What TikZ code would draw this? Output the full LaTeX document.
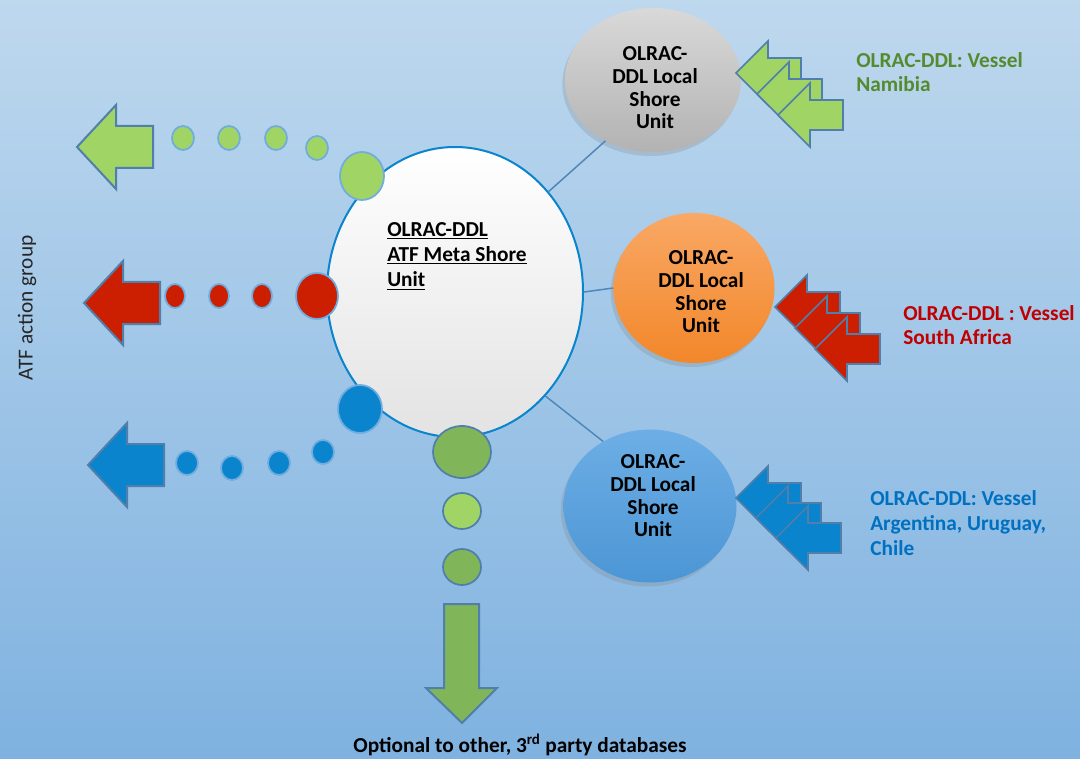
\documentclass[tikz,border=0pt]{standalone}
\usepackage{fontspec}
\setmainfont{Carlito}
\usetikzlibrary{shapes.geometric,shadows}

\definecolor{bgtop}{HTML}{BED8EE}
\definecolor{bgbot}{HTML}{7FB2E0}
\definecolor{lgreen}{HTML}{A0D465}
\definecolor{dgreen}{HTML}{80B55A}
\definecolor{ared}{HTML}{CC1E00}
\definecolor{ablue}{HTML}{0A84CC}
\definecolor{rim}{HTML}{4F7FAA}
\definecolor{dotrim}{HTML}{6FACDF}
\definecolor{lblgreen}{HTML}{558B2F}
\definecolor{lblred}{HTML}{C00000}
\definecolor{lblblue}{HTML}{0070C0}
\definecolor{linkcol}{HTML}{4F86B8}
\definecolor{orgtop}{HTML}{F9A865}
\definecolor{orgbot}{HTML}{F2872A}
\definecolor{blutop}{HTML}{6DAEE5}
\definecolor{blubot}{HTML}{4C96D5}

\tikzset{
  bubble/.style={ellipse, draw=dotrim, line width=1.3pt, inner sep=0pt},
  shoreunit/.style={ellipse, inner sep=0pt,
    drop shadow={opacity=0.25, shadow xshift=-2pt, shadow yshift=-3pt}},
  unittext/.style={align=center, inner sep=0pt,
    font=\fontsize{16}{17}\selectfont\bfseries},
  vessel/.style={align=left, anchor=north west, inner sep=0pt,
    font=\fontsize{16}{18.5}\selectfont\bfseries},
  bigarrow/.pic={\draw[pic actions] (0,0) -- (39,-42) -- (39,-21) -- (76,-21) -- (76,21) -- (39,21) -- (39,42) -- cycle;},
  smallarrow/.pic={\draw[pic actions] (0,0) -- (32,-32) -- (32,-15) -- (65,-15) -- (65,15) -- (32,15) -- (32,32) -- cycle;}
}

\begin{document}
\begin{tikzpicture}[x=0.75pt,y=-0.75pt]

% background
\fill [top color=bgtop, bottom color=bgbot] (0,0) rectangle (1080,758);

% local shore units
\node [shoreunit, minimum width=132pt, minimum height=108pt, top color=gray!30, bottom color=gray!60] (namibia) at (653,80) {};
\node [shoreunit, minimum width=120.75pt, minimum height=112.5pt, top color=orgtop, bottom color=orgbot] (southafrica) at (694,288) {};
\node [shoreunit, minimum width=129.75pt, minimum height=114.75pt, top color=blutop, bottom color=blubot] (southamerica) at (650,506) {};
\node [unittext] (namibiatext) at (655,88) {OLRAC-\\DDL Local\\Shore\\Unit};
\node [unittext] (southafricatext) at (701,292) {OLRAC-\\DDL Local\\Shore\\Unit};
\node [unittext] (southamericatext) at (653,496) {OLRAC-\\DDL Local\\Shore\\Unit};

% meta unit
\node [ellipse, draw=ablue, line width=1.5pt, top color=white, bottom color=gray!22, minimum width=192pt, minimum height=217.5pt] (meta) at (455,292) {};

% links
\draw [linkcol, line width=1.1pt] (meta.47) -- (namibia.232);
\draw [linkcol, line width=1.1pt] (meta.east) -- (southafrica.west);
\draw [linkcol, line width=1.1pt] (meta.311) -- (southamerica.126);

% incoming vessel arrows
\pic [fill=lgreen, draw=rim, line width=1.3pt] at (736,73) {smallarrow};
\pic [fill=lgreen, draw=rim, line width=1.3pt] at (757,94) {smallarrow};
\pic [fill=lgreen, draw=rim, line width=1.3pt] at (778,115) {smallarrow};

\pic [fill=ared, draw=rim, line width=1.3pt] at (775,307) {smallarrow};
\pic [fill=ared, draw=rim, line width=1.3pt] at (795,328) {smallarrow};
\pic [fill=ared, draw=rim, line width=1.3pt] at (815,349) {smallarrow};

\pic [fill=ablue, draw=rim, line width=1.3pt] at (736,498) {smallarrow};
\pic [fill=ablue, draw=rim, line width=1.3pt] at (756,518) {smallarrow};
\pic [fill=ablue, draw=rim, line width=1.3pt] at (776,538) {smallarrow};

% green dots
\node [bubble, fill=lgreen, minimum width=33pt, minimum height=36pt] (g0) at (362,176) {};
\node [bubble, fill=lgreen, minimum width=16.5pt, minimum height=18pt] (g1) at (317,148) {};
\node [bubble, fill=lgreen, minimum width=16.5pt, minimum height=18pt] (g2) at (276,138) {};
\node [bubble, fill=lgreen, minimum width=16.5pt, minimum height=18pt] (g3) at (229,138) {};
\node [bubble, fill=lgreen, minimum width=16.5pt, minimum height=18pt] (g4) at (183,138) {};

% red dots
\node [bubble, fill=ared, minimum width=31.5pt, minimum height=34.5pt] (r0) at (317,296) {};
\node [bubble, fill=ared, minimum width=15pt, minimum height=18pt] (r1) at (262,296) {};
\node [bubble, fill=ared, minimum width=15pt, minimum height=18pt] (r2) at (219,296) {};
\node [bubble, fill=ared, minimum width=15pt, minimum height=18pt] (r3) at (175,296) {};

% blue dots
\node [bubble, fill=ablue, minimum width=33pt, minimum height=36pt] (b0) at (360,409) {};
\node [bubble, fill=ablue, minimum width=16.5pt, minimum height=18pt] (b1) at (323,452) {};
\node [bubble, fill=ablue, minimum width=16.5pt, minimum height=18pt] (b2) at (279,463) {};
\node [bubble, fill=ablue, minimum width=16.5pt, minimum height=18pt] (b3) at (232,468) {};
\node [bubble, fill=ablue, minimum width=16.5pt, minimum height=18pt] (b4) at (187,463) {};

% bottom dots
\node [bubble, draw=rim, fill=dgreen, minimum width=43.5pt, minimum height=39pt] (d0) at (462,452) {};
\node [bubble, draw=rim, fill=lgreen, minimum width=28.5pt, minimum height=27pt] (d1) at (462,511) {};
\node [bubble, draw=rim, fill=dgreen, minimum width=28.5pt, minimum height=27pt] (d2) at (462,567) {};

% outgoing arrows
\pic [fill=lgreen, draw=rim, line width=1.5pt] at (77,147) {bigarrow};
\pic [fill=ared, draw=rim, line width=1.5pt] at (84,303) {bigarrow};
\pic [fill=ablue, draw=rim, line width=1.5pt] at (88,465) {bigarrow};
\draw [fill=dgreen, draw=rim, line width=1.5pt] (444,604) -- (479,604) -- (479,688) -- (497,688) -- (462,723) -- (426,688) -- (444,688) -- cycle;

% labels
\node [anchor=north west, inner sep=0pt, align=left, font=\fontsize{16}{19}\selectfont\bfseries] (metatext) at (387,222) {\underline{OLRAC-DDL}\\\underline{ATF Meta Shore}\\\underline{Unit}};
\node [vessel, text=lblgreen] (namibialbl) at (856,52) {OLRAC-DDL: Vessel\\Namibia};
\node [vessel, text=lblred] (southafricalbl) at (903,305) {OLRAC-DDL : Vessel\\South Africa};
\node [vessel, text=lblblue, font=\fontsize{16}{19}\selectfont\bfseries] (southamericalbl) at (870,490) {OLRAC-DDL: Vessel\\Argentina, Uruguay,\\Chile};
\node [rotate=90, text=black!85, font=\fontsize{16}{18}\selectfont] (atf) at (27,308) {ATF action group};
\node [font=\fontsize{16}{18}\selectfont\bfseries] (optional) at (520,745) {Optional to other, 3\textsuperscript{rd} party databases};

\end{tikzpicture}
\end{document}
